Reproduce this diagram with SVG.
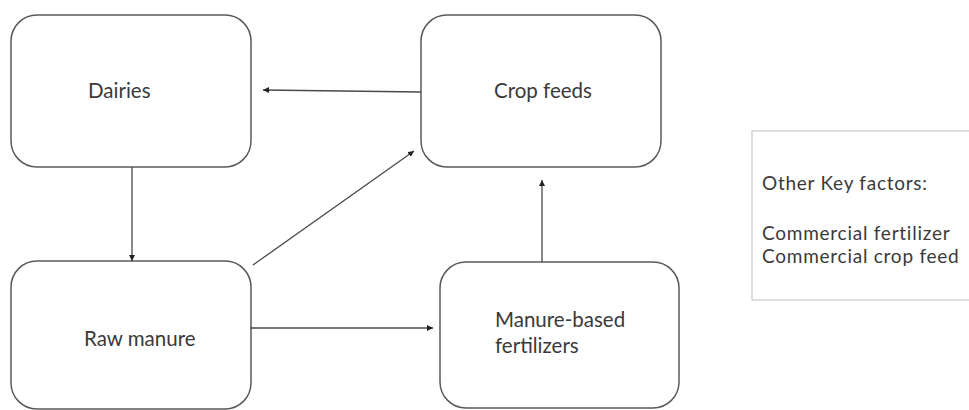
<svg xmlns="http://www.w3.org/2000/svg" width="969" height="410" viewBox="0 0 969 410">
<defs>
<style>
.box{fill:#fff;stroke:#5a5a5a;stroke-width:1.5}
.lbl{font-family:Lato,"Liberation Sans",sans-serif;font-size:20.5px;fill:#3a3a3a}
.key{font-family:Lato,"Liberation Sans",sans-serif;font-size:19px;letter-spacing:0.75px;fill:#3a3a3a}
.con{stroke:#4a4a4a;stroke-width:1.3;fill:none;marker-end:url(#ah)}
</style>
<marker id="ah" viewBox="0 0 10 10" refX="10" refY="5" markerWidth="6" markerHeight="6" markerUnits="userSpaceOnUse" orient="auto">
<path d="M0,0 L10,5 L0,10 z" fill="#222"/>
</marker>
</defs>
<rect width="969" height="410" fill="#fff"/>
<g id="dairies">
<rect class="box" x="11" y="15" width="240" height="152" rx="26"/>
<text class="lbl" x="88" y="98">Dairies</text>
</g>
<g id="cropfeeds">
<rect class="box" x="421" y="15" width="240" height="152" rx="26"/>
<text class="lbl" x="494" y="98">Crop feeds</text>
</g>
<g id="rawmanure">
<rect class="box" x="11" y="261" width="240" height="148" rx="26"/>
<text class="lbl" x="84" y="346">Raw manure</text>
</g>
<g id="manurebased">
<rect class="box" x="440" y="262" width="239" height="146" rx="26"/>
<text class="lbl" x="495" y="327">Manure-based</text>
<text class="lbl" x="495" y="353">fertilizers</text>
</g>
<g id="keyfactors">
<rect x="752" y="131" width="230" height="169" fill="#fff" stroke="#c8c8c8" stroke-width="1.2"/>
<text class="key" x="762" y="190">Other Key factors:</text>
<text class="key" x="762" y="240">Commercial fertilizer</text>
<text class="key" x="762" y="263">Commercial crop feed</text>
</g>
<g id="connectors">
<line class="con" x1="421" y1="92" x2="263" y2="90"/>
<line class="con" x1="132" y1="167" x2="132" y2="261"/>
<line class="con" x1="253" y1="265" x2="414" y2="151"/>
<line class="con" x1="250" y1="328" x2="433" y2="328"/>
<line class="con" x1="542" y1="262" x2="542" y2="180"/>
</g>
</svg>
